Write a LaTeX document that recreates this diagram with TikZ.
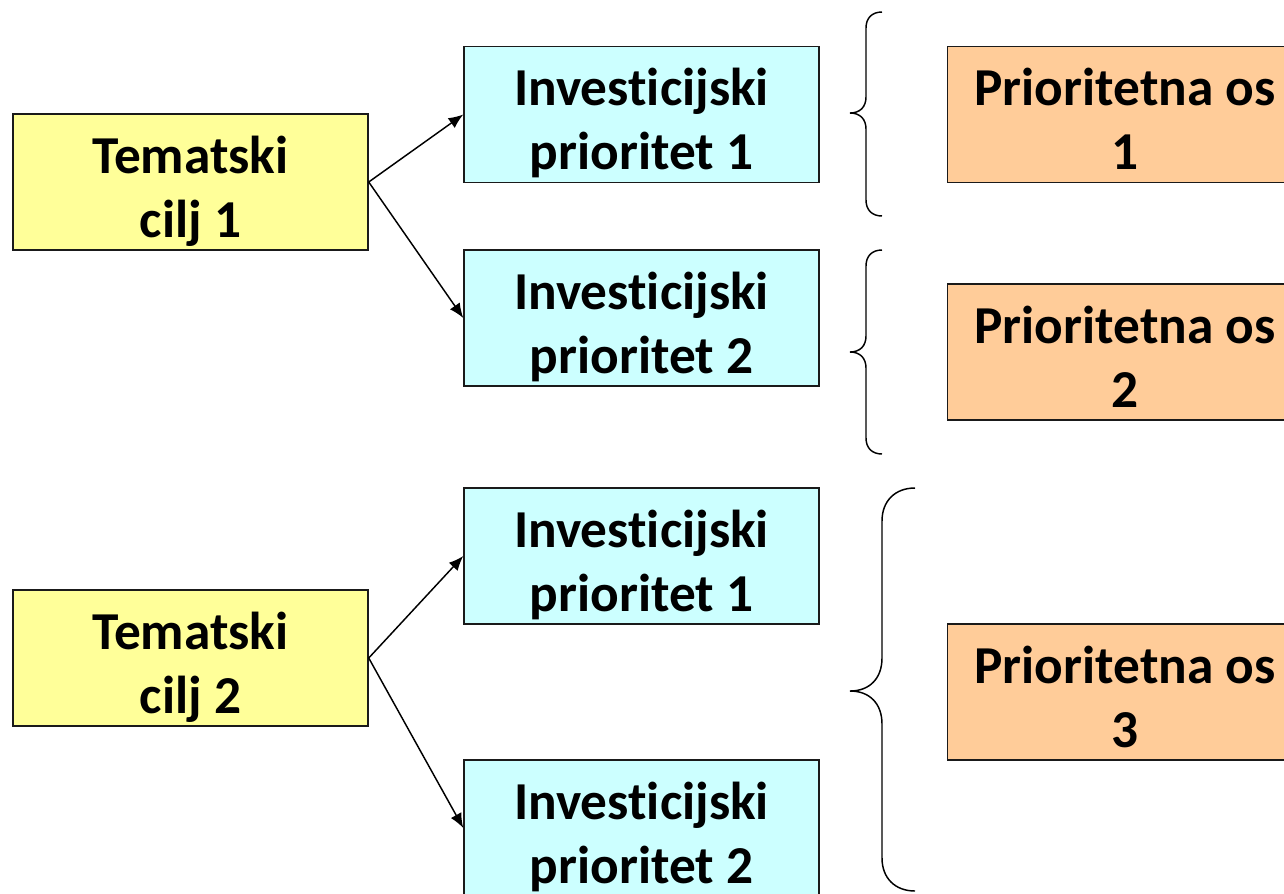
\documentclass[tikz,border=0pt]{standalone}
\usepackage{fontspec}
\setmainfont{Carlito}[Ligatures={NoCommon}]
\usetikzlibrary{arrows.meta}
\definecolor{tyellow}{HTML}{FFFF99}
\definecolor{tcyan}{HTML}{CCFFFF}
\definecolor{torange}{HTML}{FFCC99}
\definecolor{tborder}{HTML}{1A1A1A}
\tikzset{
  boxbase/.style={draw=tborder, line width=1.1pt, rectangle, minimum width=266.25pt, minimum height=102pt, align=center, inner sep=0pt, text height=84pt, text depth=1.5pt, font=\fontsize{40}{48}\selectfont\bfseries},
  tembox/.style={boxbase, fill=tyellow},
  invbox/.style={boxbase, fill=tcyan},
  osbox/.style={boxbase, fill=torange},
  conn/.style={line width=1.1pt, -{Latex[length=11pt,width=9pt]}},
  bracestyle/.style={line width=1.1pt}
}
\begin{document}
\begin{tikzpicture}[x=0.75pt,y=-0.75pt]
\useasboundingbox (0,0) rectangle (1284,893);
\node[tembox] (t1) at (190.5,182) {Tematski\\cilj 1};
\node[invbox] (i1) at (641.5,114.5) {Investicijski\\prioritet 1};
\node[invbox] (i2) at (641.5,318) {Investicijski\\prioritet 2};
\node[osbox] (p1) at (1125,114.5) {Prioritetna os\\1};
\node[osbox] (p2) at (1125,352) {Prioritetna os\\2};
\node[tembox] (t2) at (190.5,658) {Tematski\\cilj 2};
\node[invbox] (i3) at (641.5,556) {Investicijski\\prioritet 1};
\node[invbox] (i4) at (641.5,828) {Investicijski\\prioritet 2};
\node[osbox] (p3) at (1125,692) {Prioritetna os\\3};
\draw[conn] (t1.east) -- (i1.west);
\draw[conn] (t1.east) -- (i2.west);
\draw[conn] (t2.east) -- (i3.west);
\draw[conn] (t2.east) -- (i4.west);
% braces
\draw[bracestyle] (882,12) .. controls (872,12) and (866,18) .. (866,28)
  -- (866,97) .. controls (866,107) and (860,113) .. (850,113)
  .. controls (860,113) and (866,119) .. (866,129)
  -- (866,200) .. controls (866,210) and (872,216) .. (882,216);
\draw[bracestyle] (882,250) .. controls (872,250) and (866,256) .. (866,266)
  -- (866,336) .. controls (866,346) and (860,352) .. (850,352)
  .. controls (860,352) and (866,358) .. (866,368)
  -- (866,438) .. controls (866,448) and (872,454) .. (882,454);
\draw[bracestyle] (915,488) .. controls (895,488) and (882,501) .. (882,521)
  -- (882,658) .. controls (882,678) and (870,691) .. (850,691)
  .. controls (870,691) and (882,704) .. (882,724)
  -- (882,858) .. controls (882,878) and (895,891) .. (915,891);
\end{tikzpicture}
\end{document}
